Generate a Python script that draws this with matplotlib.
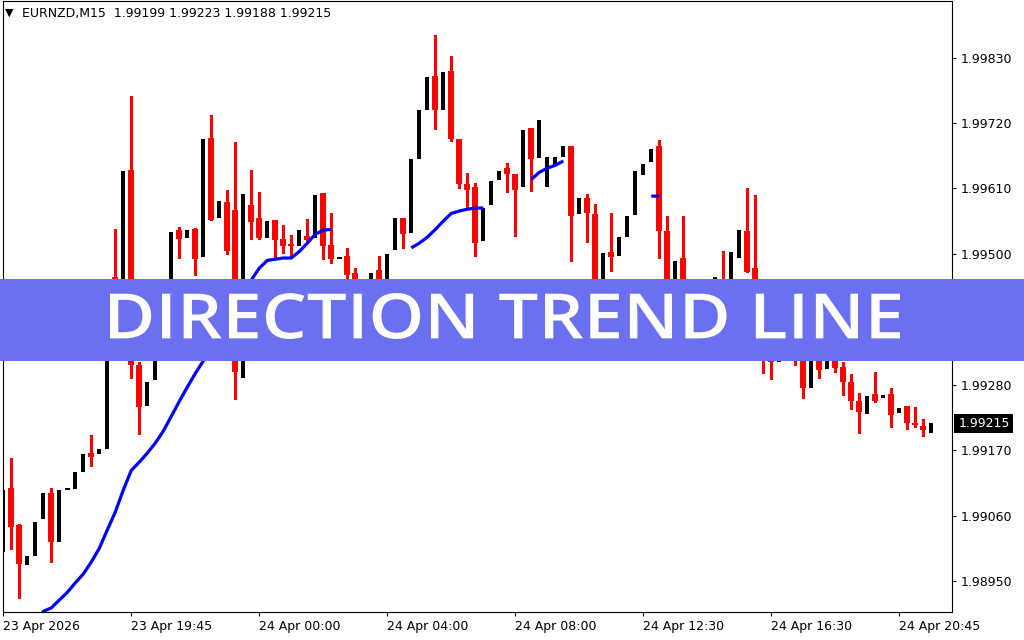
import numpy as np
import matplotlib
matplotlib.use("Agg")
import matplotlib.pyplot as plt
from matplotlib.patches import Rectangle, PathPatch
from matplotlib.textpath import TextPath
from matplotlib.font_manager import FontProperties
from matplotlib.transforms import Affine2D, IdentityTransform

# EURNZD M15 bars
opens = [1.98999, 1.99106, 1.99044, 1.98977, 1.98992, 1.99054, 1.99098, 1.99015, 1.99104, 1.99104,
         1.99133, 1.99165, 1.99163, 1.99172, 1.99461, 1.99422, 1.99641, 1.99313, 1.99244, 1.99288,
         1.99363, 1.99422, 1.99540, 1.99526, 1.99541, 1.99494, 1.99694, 1.99560, 1.99587, 1.99573,
         1.99291, 1.99582, 1.99560, 1.99526, 1.99557, 1.99525, 1.99516, 1.99513, 1.99530, 1.99526,
         1.99602, 1.99515, 1.99493, 1.99496, 1.99468, 1.99439, 1.99414, 1.99473, 1.99436, 1.99506,
         1.99560, 1.99535, 1.99659, 1.99741, 1.99799, 1.99741, 1.99807, 1.99693, 1.99617, 1.99612,
         1.99521, 1.99582, 1.99624, 1.99644, 1.99634, 1.99612, 1.99711, 1.99661, 1.99612, 1.99647,
         1.99662, 1.99681, 1.99567, 1.99594, 1.99567, 1.99422, 1.99503, 1.99496, 1.99528, 1.99565,
         1.99632, 1.99654, 1.99681, 1.99538, 1.99422, 1.99493, 1.99431, 1.99389, 1.99422, 1.99397,
         1.99447, 1.99414, 1.99493, 1.99538, 1.99476, 1.99405, 1.99347, 1.99318, 1.99372, 1.99422,
         1.99347, 1.99274, 1.99338, 1.99306, 1.99338, 1.99310, 1.99284, 1.99252, 1.99231, 1.99264,
         1.99257, 1.99264, 1.99232, 1.99244, 1.99215, 1.99210, 1.99199]
highs = [1.99103, 1.99157, 1.99046, 1.98992, 1.99049, 1.99098, 1.99106, 1.99103, 1.99104, 1.99133,
         1.99163, 1.99195, 1.99172, 1.99439, 1.99541, 1.99639, 1.99765, 1.99318, 1.99284, 1.99363,
         1.99422, 1.99536, 1.99545, 1.99540, 1.99543, 1.99693, 1.99733, 1.99589, 1.99607, 1.99688,
         1.99600, 1.99641, 1.99604, 1.99555, 1.99557, 1.99548, 1.99531, 1.99540, 1.99558, 1.99599,
         1.99602, 1.99568, 1.99493, 1.99510, 1.99476, 1.99442, 1.99468, 1.99496, 1.99499, 1.99560,
         1.99560, 1.99659, 1.99741, 1.99797, 1.99868, 1.99805, 1.99832, 1.99693, 1.99636, 1.99619,
         1.99577, 1.99622, 1.99639, 1.99652, 1.99634, 1.99708, 1.99711, 1.99725, 1.99662, 1.99662,
         1.99681, 1.99681, 1.99594, 1.99600, 1.99583, 1.99501, 1.99568, 1.99528, 1.99563, 1.99639,
         1.99651, 1.99676, 1.99691, 1.99563, 1.99488, 1.99563, 1.99439, 1.99422, 1.99439, 1.99461,
         1.99504, 1.99503, 1.99540, 1.99610, 1.99599, 1.99422, 1.99372, 1.99372, 1.99422, 1.99457,
         1.99355, 1.99338, 1.99347, 1.99338, 1.99341, 1.99318, 1.99298, 1.99266, 1.99261, 1.99301,
         1.99262, 1.99274, 1.99241, 1.99244, 1.99242, 1.99222, 1.99223]
lows = [1.98999, 1.99004, 1.98921, 1.98977, 1.98992, 1.99054, 1.98982, 1.99015, 1.99104, 1.99104,
        1.99133, 1.99143, 1.99163, 1.99172, 1.99414, 1.99422, 1.99291, 1.99197, 1.99244, 1.99288,
        1.99363, 1.99422, 1.99493, 1.99526, 1.99464, 1.99494, 1.99557, 1.99560, 1.99499, 1.99256,
        1.99291, 1.99525, 1.99525, 1.99526, 1.99493, 1.99501, 1.99494, 1.99513, 1.99521, 1.99526,
        1.99491, 1.99484, 1.99493, 1.99457, 1.99422, 1.99392, 1.99414, 1.99422, 1.99436, 1.99506,
        1.99510, 1.99535, 1.99659, 1.99741, 1.99710, 1.99741, 1.99689, 1.99610, 1.99578, 1.99496,
        1.99521, 1.99582, 1.99624, 1.99604, 1.99530, 1.99612, 1.99605, 1.99661, 1.99612, 1.99647,
        1.99662, 1.99488, 1.99567, 1.99520, 1.99405, 1.99422, 1.99471, 1.99496, 1.99528, 1.99565,
        1.99632, 1.99654, 1.99493, 1.99405, 1.99422, 1.99405, 1.99372, 1.99389, 1.99372, 1.99397,
        1.99389, 1.99414, 1.99493, 1.99469, 1.99389, 1.99299, 1.99289, 1.99318, 1.99372, 1.99313,
        1.99257, 1.99274, 1.99291, 1.99306, 1.99301, 1.99262, 1.99239, 1.99199, 1.99231, 1.99251,
        1.99257, 1.99209, 1.99232, 1.99205, 1.99209, 1.99194, 1.99188]
closes = [1.99103, 1.99041, 1.98978, 1.98992, 1.99049, 1.99098, 1.99015, 1.99103, 1.99104, 1.99133,
          1.99163, 1.99158, 1.99172, 1.99439, 1.99422, 1.99639, 1.99313, 1.99242, 1.99284, 1.99363,
          1.99422, 1.99536, 1.99525, 1.99540, 1.99491, 1.99693, 1.99557, 1.99589, 1.99504, 1.99301,
          1.99600, 1.99553, 1.99526, 1.99555, 1.99523, 1.99513, 1.99513, 1.99540, 1.99523, 1.99599,
          1.99513, 1.99491, 1.99493, 1.99464, 1.99439, 1.99414, 1.99468, 1.99436, 1.99499, 1.99560,
          1.99533, 1.99659, 1.99741, 1.99797, 1.99741, 1.99805, 1.99693, 1.99617, 1.99607, 1.99518,
          1.99577, 1.99622, 1.99639, 1.99634, 1.99607, 1.99708, 1.99659, 1.99725, 1.99662, 1.99662,
          1.99681, 1.99563, 1.99594, 1.99568, 1.99422, 1.99501, 1.99494, 1.99528, 1.99563, 1.99639,
          1.99651, 1.99676, 1.99538, 1.99422, 1.99488, 1.99431, 1.99389, 1.99422, 1.99397, 1.99461,
          1.99414, 1.99503, 1.99540, 1.99469, 1.99405, 1.99338, 1.99318, 1.99372, 1.99422, 1.99347,
          1.99274, 1.99338, 1.99304, 1.99338, 1.99308, 1.99284, 1.99252, 1.99234, 1.99261, 1.99252,
          1.99262, 1.99229, 1.99241, 1.99215, 1.99212, 1.99204, 1.99215]

# Direction Trend Line indicator (None = not drawn on that bar)
trend = [None] * 4 + [
    1.98876, 1.98899, 1.98905, 1.98918, 1.98931, 1.98947, 1.98962, 1.98982, 1.99005, 1.99036,
    1.99066, 1.99103, 1.99136, 1.99150, 1.99165, 1.99182, 1.99202, 1.99227, 1.99252, 1.99276,
    1.99299, 1.99320, 1.99343, 1.99367, 1.99392, 1.99417, 1.99439, 1.99456, 1.99476, 1.99489,
    1.99491, 1.99493, 1.99493, 1.99504, 1.99518, 1.99533, 1.99540, 1.99541] + [None] * 9 + [
    1.99510, 1.99518, 1.99528, 1.99541, 1.99555, 1.99568, 1.99572, 1.99575, 1.99577, 1.99577] + [None] * 5 + [
    1.99625, 1.99637, 1.99644, 1.99649, 1.99656] + [None] * 10 + [
    1.99597, 1.99597] + [None] * 34

tick_bars = [0, 16, 32, 48, 64, 80, 96, 112]
tick_labels = ["23 Apr 2026", "23 Apr 19:45", "24 Apr 00:00", "24 Apr 04:00",
               "24 Apr 08:00", "24 Apr 12:30", "24 Apr 16:30", "24 Apr 20:45"]
price_ticks = [1.98950, 1.99060, 1.99170, 1.99280, 1.99390, 1.99500, 1.99610, 1.99720, 1.99830]
header = "EURNZD,M15  1.99199 1.99223 1.99188 1.99215"
banner_text = "DIRECTION TREND LINE"

W, H = 1024, 640
fig = plt.figure(figsize=(W / 100, H / 100), dpi=100)
ax = fig.add_axes([2.7 / W, (H - 612) / H, (952 - 2.7) / W, 611 / H])

o = np.array(opens)
c = np.array(closes)
hi = np.array(highs)
lo = np.array(lows)
x = np.arange(len(o))
bull = c > o
bear = c < o
doji = c == o

# bear candles: red wick + red body
ax.vlines(x[bear], lo[bear], hi[bear], color="#ff0000", linewidth=0.8, antialiased=False, zorder=2)
ax.bar(x[bear], (o - c)[bear], bottom=c[bear], width=5.6 / 8, color="#ff0000",
       linewidth=0, antialiased=False, zorder=3)
# bull candles: black body only (wick colour is white in the terminal)
ax.bar(x[bull], (c - o)[bull], bottom=o[bull], width=3.6 / 8, color="black",
       linewidth=0, antialiased=False, zorder=3)
ax.hlines(c[doji], x[doji] - 0.28, x[doji] + 0.28, color="black", linewidth=1.2,
          antialiased=False, zorder=3)

tr = np.array([np.nan if v is None else v for v in trend])
ax.plot(x, tr, color="#0000ff", linewidth=2.3, solid_capstyle="butt", zorder=4)

ax.set_xlim(-0.075, 118.59)
ax.set_ylim(1.98898, 1.99925)

for s in ax.spines.values():
    s.set_linewidth(0.8)
    s.set_color("black")

ax.yaxis.tick_right()
ax.set_yticks(price_ticks)
ax.set_yticklabels(["%.5f" % v for v in price_ticks])
ax.tick_params(axis="y", direction="out", length=3, width=0.8, labelsize=9, pad=3)
ax.set_xticks(tick_bars)
ax.set_xticklabels(tick_labels)
ax.tick_params(axis="x", direction="out", length=3, width=0.8, labelsize=9, pad=3)
for lbl in ax.get_xticklabels():
    lbl.set_ha("left")

# header in the top-left corner
fig.text(5 / W, 1 - 13 / H, "\u25bc", fontsize=8, va="center", ha="left")
fig.text(22 / W, 1 - 13 / H, header, fontsize=9, va="center", ha="left")

# current price box on the price scale
fig.canvas.draw()
yp = ax.transData.transform((0, closes[-1]))[1]
fig.add_artist(Rectangle((954, yp - 9.5), 59, 19, transform=IdentityTransform(),
                         facecolor="black", edgecolor="none", zorder=3))
fig.text(959 / W, yp / H, "%.5f" % closes[-1], color="white", fontsize=9,
         va="center", ha="left", zorder=4)

# banner across the chart
fig.add_artist(Rectangle((0, 1 - 361 / H), 1, 82 / H, transform=fig.transFigure,
                         facecolor="#6b70f0", edgecolor="none", zorder=5))
prop = FontProperties(family="Open Sans", weight="semibold")
tp = TextPath((0, 0), banner_text, size=100, prop=prop)
bb = tp.get_extents()
sx = (900 - 110) / bb.width
sy = 46 / bb.height
t = Affine2D().translate(-bb.x0, -bb.y0).scale(sx, sy).translate(110, H - 339)
fig.add_artist(PathPatch(tp, transform=t, facecolor="white", edgecolor="none", zorder=6))

fig.savefig("out.png", dpi=100)
